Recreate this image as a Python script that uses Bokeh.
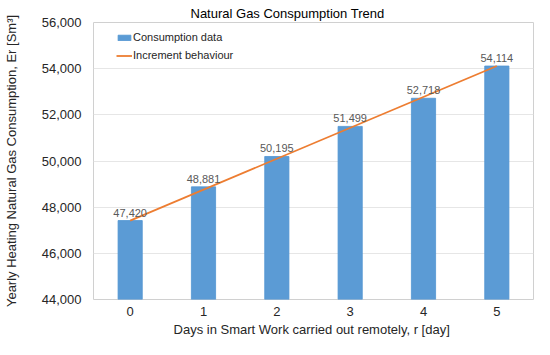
from bokeh.plotting import figure
from bokeh.models import ColumnDataSource, Legend, LegendItem, FixedTicker, NumeralTickFormatter, LabelSet
from bokeh.core.properties import value
from bokeh.embed import file_html
from bokeh.resources import INLINE

days = [0, 1, 2, 3, 4, 5]
consumption = [47420, 48881, 50195, 51499, 52718, 54114]
labels = ["47,420", "48,881", "50,195", "51,499", "52,718", "54,114"]
trend_x = [0, 5]
trend_y = [47420, 54114]
y_ticks = [44000, 46000, 48000, 50000, 52000, 54000, 56000]

FONT = "Liberation Sans"

src = ColumnDataSource(data=dict(x=days, y=consumption, lab=labels))

p = figure(width=534, height=339, output_backend="svg", toolbar_location=None,
           x_range=(-0.5, 5.5), y_range=(44000, 56000),
           min_border_left=91, min_border_right=1, min_border_bottom=0, min_border_top=22)

p.title.text = "Natural Gas Conspumption Trend"
p.title.align = "left"
p.title.offset = 97
p.title.text_font = FONT
p.title.text_font_size = "13px"
p.title.text_font_style = "normal"
p.title.text_color = "#000000"
p.title.standoff = 4

bars = p.vbar(x="x", top="y", bottom=44000, width=0.33, source=src,
              fill_color="#5B9BD5", line_color="#5295D2", line_width=0.8)
line = p.line(trend_x, trend_y, line_color="#ED7D31", line_width=1.8)

p.add_layout(LabelSet(x="x", y="y", text="lab", source=src, text_align="center",
                      text_baseline="bottom", y_offset=4, text_font=value(FONT),
                      text_font_size="11px", text_color="#595959"))

p.xaxis.ticker = FixedTicker(ticks=days)
p.yaxis.ticker = FixedTicker(ticks=y_ticks)
p.yaxis.formatter = NumeralTickFormatter(format="0,0")

for ax in (p.xaxis[0], p.yaxis[0]):
    ax.axis_line_color = None
    ax.major_tick_line_color = None
    ax.minor_tick_line_color = None
    ax.major_tick_out = 0
    ax.major_tick_in = 0
    ax.major_label_text_font = FONT
    ax.major_label_text_font_size = "13px"
    ax.major_label_text_color = "#262626"
    ax.axis_label_text_font = FONT
    ax.axis_label_text_font_size = "13px"
    ax.axis_label_text_font_style = "normal"
    ax.axis_label_text_color = "#262626"

p.xaxis.axis_label = "Days in Smart Work carried out remotely, r  [day]"
p.yaxis.axis_label = "Yearly Heating Natural Gas Consumption, Er [Sm³]"
p.xaxis.major_label_standoff = 7
p.xaxis.axis_label_standoff = 3
p.yaxis.major_label_standoff = 12
p.yaxis.axis_label_standoff = 20

p.xgrid.grid_line_color = None
p.ygrid.grid_line_color = "#E6E6E6"
p.outline_line_color = "#D0D0D0"
p.outline_line_width = 1

legend = Legend(items=[LegendItem(label="Consumption data", renderers=[bars]),
                       LegendItem(label="Increment behaviour", renderers=[line])],
                location=(23, 235))
legend.border_line_color = None
legend.background_fill_alpha = 0
legend.padding = 0
legend.margin = 0
legend.spacing = 0
legend.glyph_width = 16
legend.glyph_height = 7
legend.label_height = 18
legend.label_standoff = 1
legend.label_text_font = FONT
legend.label_text_font_size = "11px"
legend.label_text_color = "#262626"
p.add_layout(legend, "center")

open("out.html", "w").write(file_html(p, INLINE))
